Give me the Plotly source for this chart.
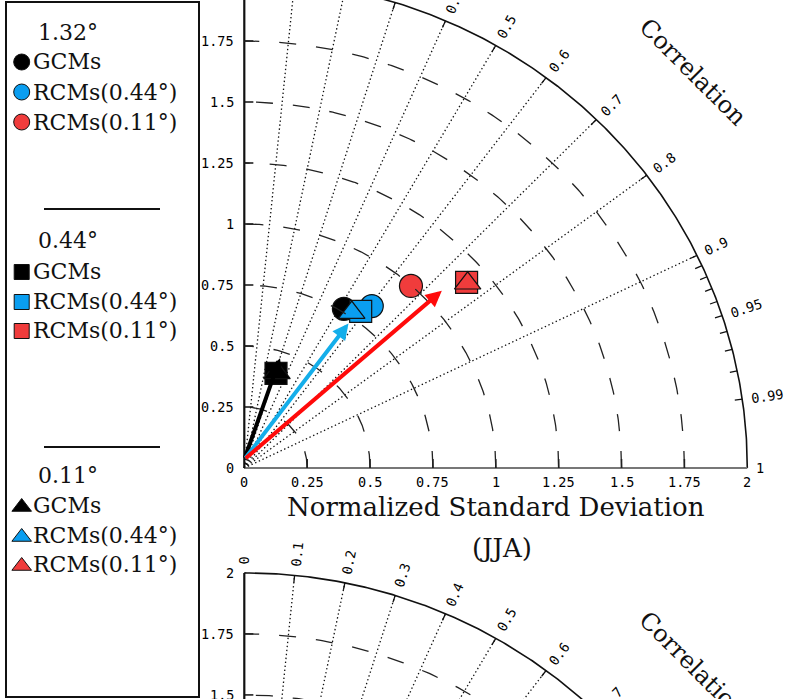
import numpy as np
import plotly.graph_objects as go

# ---------------- data ----------------
SOURCES = ["GCMs", "RCMs(0.44°)", "RCMs(0.11°)"]
RESOLUTIONS = ["1.32°", "0.44°", "0.11°"]

# normalized standard deviation / correlation, one list per resolution (GCMs, RCMs0.44, RCMs0.11)
std_132 = [0.763, 0.835, 0.998]
corr_132 = [0.519, 0.607, 0.664]
std_044 = [0.408, 0.791, 1.166]
corr_044 = [0.309, 0.585, 0.758]
std_011 = [0.411, 0.767, 1.167]
corr_011 = [0.316, 0.557, 0.761]

# arrows (GCMs, RCMs0.44, RCMs0.11)
arrow_std = [0.472, 0.723, 1.070]
arrow_corr = [0.301, 0.573, 0.734]
arrow_start_std = 0.035
arrow_start_corr = 0.0

CORR_MAJOR = [0.0, 0.1, 0.2, 0.3, 0.4, 0.5, 0.6, 0.7, 0.8, 0.9, 0.95, 0.99, 1.0]
CORR_MAJOR_LABELS = ["0", "0.1", "0.2", "0.3", "0.4", "0.5", "0.6", "0.7", "0.8", "0.9", "0.95", "0.99", "1"]
CORR_MINOR = [0.91, 0.92, 0.93, 0.94, 0.96, 0.97, 0.98]
CORR_RAYS = [0.1, 0.2, 0.3, 0.4, 0.5, 0.6, 0.7, 0.8, 0.9]
STD_ARCS = [0.25, 0.5, 0.75, 1.0, 1.25, 1.5, 1.75]
STD_TICKS = [0.0, 0.25, 0.5, 0.75, 1.0, 1.25, 1.5, 1.75, 2.0]
STD_TICK_LABELS = ["0", "0.25", "0.5", "0.75", "1", "1.25", "1.5", "1.75", "2"]
STD_MAX = 2.0
XTITLE = "Normalized Standard Deviation"
PANEL2_TITLE = "(JJA)"

# ---------------- layout helpers ----------------
W, H = 791, 699
X0, SX = 244.3, 251.5
Y0, SY = 468.0, 244.0
OFF2 = -2.43          # vertical offset of the second (JJA) diagram
OFFSETS = [0.0, OFF2]


def px_x(p):
    return (p - X0) / SX


def px_y(p):
    return (Y0 - p) / SY


def pol(s, c, off=0.0):
    th = np.arccos(c)
    return s * np.cos(th), s * np.sin(th) + off


MONO = "DejaVu Sans Mono"
SERIF = "DejaVu Serif"
TICK_FONT = dict(family=MONO, size=13.5, color="#000")

fig = go.Figure()

# dotted correlation rays
xs, ys = [], []
for off in OFFSETS:
    for c in CORR_RAYS:
        x1, y1 = pol(STD_MAX, c, off)
        xs += [0, x1, None]
        ys += [off, y1, None]
fig.add_trace(go.Scatter(x=xs, y=ys, mode="lines",
                         line=dict(color="#111", width=1.3, dash="1.4px,2.6px"),
                         hoverinfo="skip", showlegend=False))

# solid outer arc + axes
th = np.linspace(0, np.pi / 2, 300)
for off in OFFSETS:
    fig.add_trace(go.Scatter(x=STD_MAX * np.cos(th), y=STD_MAX * np.sin(th) + off, mode="lines",
                             line=dict(color="#111", width=1.6), hoverinfo="skip", showlegend=False))
    fig.add_trace(go.Scatter(x=[0, STD_MAX], y=[off, off], mode="lines",
                             line=dict(color="#777", width=2.2), hoverinfo="skip", showlegend=False))
    fig.add_trace(go.Scatter(x=[0, 0], y=[off, off + STD_MAX], mode="lines",
                             line=dict(color="#111", width=2.2), hoverinfo="skip", showlegend=False))

# axis ticks (inward)
xs, ys = [], []
for off in OFFSETS:
    for s in STD_TICKS[1:-1]:
        xs += [0, 0.036, None]
        ys += [off + s, off + s, None]
        xs += [s, s, None]
        ys += [off, off + 0.037, None]
fig.add_trace(go.Scatter(x=xs, y=ys, mode="lines", line=dict(color="#111", width=1.5),
                         hoverinfo="skip", showlegend=False))

# correlation ticks on the outer arc
xs, ys = [], []
for off in OFFSETS:
    for c in CORR_MAJOR[1:-1] + CORR_MINOR:
        xa, ya = pol(STD_MAX, c, off)
        xb, yb = pol(STD_MAX - 0.03, c, off)
        xs += [xa, xb, None]
        ys += [ya, yb, None]
fig.add_trace(go.Scatter(x=xs, y=ys, mode="lines", line=dict(color="#111", width=1.3),
                         hoverinfo="skip", showlegend=False))

# markers (circles, then squares, then triangles)
std_by_res = [std_132, std_044, std_011]
corr_by_res = [corr_132, corr_044, corr_011]
SYMBOLS = ["circle", "square", "triangle-up"]
SIZES = [23, 22, 23]
COLORS = ["#000000", "#0a9ef0", "#f03c3c"]
ARROW_COLORS = ["#000000", "#14aeea", "#ff0a0a"]

for ri, res in enumerate(RESOLUTIONS):
    for si, src in enumerate(SOURCES):
        x, y = pol(std_by_res[ri][si], corr_by_res[ri][si])
        fig.add_trace(go.Scatter(x=[x], y=[y], mode="markers", name=f"{res} {src}",
                                 marker=dict(symbol=SYMBOLS[ri], size=SIZES[ri], color=COLORS[si],
                                             line=dict(color="#111", width=1.2)),
                                 showlegend=False))

# dashed std arcs (drawn over markers)
xs, ys = [], []
tha = np.linspace(0, np.pi / 2, 240)
for off in OFFSETS:
    for s in STD_ARCS:
        xs += list(s * np.cos(tha)) + [None]
        ys += list(s * np.sin(tha) + off) + [None]
fig.add_trace(go.Scatter(x=xs, y=ys, mode="lines",
                         line=dict(color="#222", width=1.3, dash="17px,20px"),
                         hoverinfo="skip", showlegend=False))

annotations = []

# arrows
ax0, ay0 = pol(arrow_start_std, arrow_start_corr)
for i in range(3):
    xt, yt = pol(arrow_std[i], arrow_corr[i])
    annotations.append(dict(x=xt, y=yt, ax=ax0, ay=ay0, xref="x", yref="y", axref="x", ayref="y",
                            text="", showarrow=True, arrowhead=2, arrowsize=0.8, arrowwidth=4,
                            arrowcolor=ARROW_COLORS[i], standoff=0))

# std tick labels
for off in OFFSETS:
    for s, lab in zip(STD_TICKS, STD_TICK_LABELS):
        annotations.append(dict(x=0, y=off + s, xref="x", yref="y", text=lab, showarrow=False,
                                xanchor="right", yanchor="middle", xshift=-8, font=TICK_FONT))
for s, lab in zip(STD_TICKS, STD_TICK_LABELS):
    annotations.append(dict(x=s, y=0, xref="x", yref="y", text=lab, showarrow=False,
                            xanchor="center", yanchor="top", yshift=-4, font=TICK_FONT))

# correlation labels
for off in OFFSETS:
    for c, lab in zip(CORR_MAJOR, CORR_MAJOR_LABELS):
        wpx = 8.4 * len(lab)
        rc = 2.035 + 0.5 * wpx / SX
        x, y = pol(rc, c, off)
        annotations.append(dict(x=x, y=y, xref="x", yref="y", text=lab, showarrow=False,
                                xanchor="center", yanchor="middle",
                                textangle=-np.degrees(np.arccos(c)), font=TICK_FONT))
    xc, yc = pol(2.41, np.cos(np.radians(42.3)), off)
    annotations.append(dict(x=xc, y=yc, xref="x", yref="y", text="Correlation", showarrow=False,
                            xanchor="center", yanchor="middle", textangle=45,
                            font=dict(family=SERIF, size=24, color="#111")))

# axis title and second panel title
annotations.append(dict(x=1.0, y=0, xref="x", yref="y", text=XTITLE, showarrow=False,
                        xanchor="center", yanchor="middle", yshift=-39,
                        font=dict(family=SERIF, size=26, color="#111")))
annotations.append(dict(x=px_x(502), y=px_y(548), xref="x", yref="y", text=PANEL2_TITLE,
                        showarrow=False, xanchor="center", yanchor="middle",
                        font=dict(family=SERIF, size=26, color="#111")))

# ---------------- legend box ----------------
shapes = [dict(type="rect", xref="paper", yref="paper", x0=6 / W, x1=199 / W,
               y0=1 - 697 / H, y1=1 - 2 / H, line=dict(color="#111", width=2))]
for sep_y in [209, 447]:
    shapes.append(dict(type="line", xref="paper", yref="paper", x0=44 / W, x1=160 / W,
                       y0=1 - sep_y / H, y1=1 - sep_y / H, line=dict(color="#111", width=2)))

head_y = [32, 240, 475]
row_y = [[62, 92, 122], [272, 302, 331], [505, 535, 564]]
leg_sizes = [16, 15, 17]
for ri, res in enumerate(RESOLUTIONS):
    annotations.append(dict(x=68 / W, y=1 - head_y[ri] / H, xref="paper", yref="paper", text=res,
                            showarrow=False, xanchor="center", yanchor="middle",
                            font=dict(family=SERIF, size=22, color="#111")))
    for si, src in enumerate(SOURCES):
        yy = row_y[ri][si]
        fig.add_trace(go.Scatter(x=[px_x(21.7)], y=[px_y(yy + (2 if ri == 2 else 0))], mode="markers",
                                 marker=dict(symbol=SYMBOLS[ri], size=leg_sizes[ri], color=COLORS[si],
                                             line=dict(color="#111", width=1)),
                                 hoverinfo="skip", showlegend=False))
        annotations.append(dict(x=31 / W, y=1 - yy / H, xref="paper", yref="paper", text=src,
                                showarrow=False, xanchor="left", yanchor="middle",
                                font=dict(family=SERIF, size=22, color="#111")))

fig.update_layout(
    width=W, height=H, margin=dict(l=0, r=0, t=0, b=0),
    paper_bgcolor="white", plot_bgcolor="white",
    xaxis=dict(range=[px_x(0), px_x(W)], visible=False, fixedrange=True),
    yaxis=dict(range=[px_y(H), px_y(0)], visible=False, fixedrange=True),
    annotations=annotations, shapes=shapes, showlegend=False, hovermode=False,
)

fig.write_html("out.html", config={"displayModeBar": False},
               post_script="document.body.style.margin='0';document.body.style.overflow='hidden';")
